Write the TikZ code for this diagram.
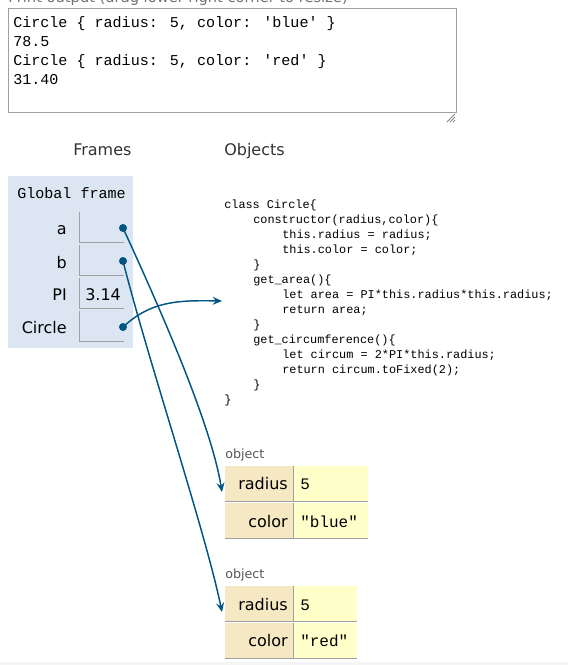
\documentclass[tikz,border=0pt]{standalone}
\usepackage{fontspec}
\setmainfont{DejaVu Sans}
\newfontfamily\monofont{Liberation Mono}
\usetikzlibrary{arrows.meta}
\definecolor{arrowblue}{HTML}{005583}
\definecolor{framebg}{HTML}{DCE6F2}
\definecolor{keybg}{HTML}{F7E8C4}
\definecolor{valbg}{HTML}{FFFFCA}
\definecolor{linegray}{HTML}{A0A0A0}
\definecolor{labelgray}{HTML}{555555}
\tikzset{
  outtext/.style={anchor=base west, inner sep=0pt, font=\monofont\fontsize{11.3pt}{13pt}\selectfont},
  codetext/.style={anchor=base west, inner sep=0pt, font=\monofont\fontsize{8.9pt}{11pt}\selectfont},
  headtext/.style={anchor=base west, inner sep=0pt, font=\fontsize{12pt}{14pt}\selectfont, text=black!80},
  varname/.style={anchor=base east, inner sep=0pt, font=\fontsize{12pt}{14pt}\selectfont},
  keytext/.style={anchor=base east, inner sep=0pt, font=\fontsize{12pt}{14pt}\selectfont},
  valtext/.style={anchor=base west, inner sep=0pt, font=\monofont\fontsize{12pt}{14pt}\selectfont},
  objlabel/.style={anchor=base west, inner sep=0pt, font=\fontsize{9.5pt}{11pt}\selectfont, text=labelgray},
  ptr/.style={draw=arrowblue, line width=1.1pt, -{Stealth[length=7pt, width=6pt, inset=2.5pt]}},
  dot/.style={circle, fill=arrowblue, inner sep=0pt, minimum size=6pt},
  cellline/.style={draw=linegray, line width=0.75pt},
}
\begin{document}
\begin{tikzpicture}[x=0.75pt, y=-0.75pt]
\useasboundingbox (0,0) rectangle (568,665);
\fill[white] (0,0) rectangle (568,665);
\fill[black!4] (0,662) rectangle (568,665);

% print output
\node[anchor=base west, inner sep=0pt, font=\fontsize{11pt}{13pt}\selectfont, text=black!55] (plabel) at (8,2) {Print output (drag lower right corner to resize)};
\draw[linegray, line width=0.75pt] (8,8) rectangle (456,112);
\node[outtext] (o1) at (13,27) {Circle \{ radius: 5, color: 'blue' \}};
\node[outtext] (o2) at (13,46) {78.5};
\node[outtext] (o3) at (13,65) {Circle \{ radius: 5, color: 'red' \}};
\node[outtext] (o4) at (13,84) {31.40};
\foreach \d in {0,3,6} \draw[black!45, line width=0.6pt] (447+\d,122) -- (455,114+\d);

% headings
\node[headtext] (frames) at (73,155) {Frames};
\node[headtext] (objects) at (224,155) {Objects};

% global frame
\fill[framebg] (8,176) rectangle (133,348);
\node[outtext] (gf) at (17,198) {Global frame};
\foreach \t/\b in {212/242, 245/275, 278/308, 311/341}
  \draw[cellline] (79,\t) -- (79,\b) -- (124,\b);
\node[varname] (va) at (67,234) {a};
\node[varname] (vb) at (67,268) {b};
\node[varname] (vpi) at (67,300) {PI};
\node[varname] (vc) at (67,333) {Circle};
\node[anchor=base west, inner sep=0pt, font=\fontsize{12pt}{14pt}\selectfont] (pival) at (85,300) {3.14};
\node[dot] (da) at (123,228) {};
\node[dot] (db) at (123,261) {};
\node[dot] (dc) at (123,327) {};

% class code
\node[codetext] (c1) at (224,208) {class Circle\{};
\node[codetext] (c2) at (253,223) {constructor(radius,color)\{};
\node[codetext] (c3) at (282,238) {this.radius = radius;};
\node[codetext] (c4) at (282,253) {this.color = color;};
\node[codetext] (c5) at (253,268) {\}};
\node[codetext] (c6) at (253,283) {get\_area()\{};
\node[codetext] (c7) at (282,298) {let area = PI*this.radius*this.radius;};
\node[codetext] (c8) at (282,313) {return area;};
\node[codetext] (c9) at (253,328) {\}};
\node[codetext] (c10) at (253,343) {get\_circumference()\{};
\node[codetext] (c11) at (282,358) {let circum = 2*PI*this.radius;};
\node[codetext] (c12) at (282,373) {return circum.toFixed(2);};
\node[codetext] (c13) at (253,388) {\}};
\node[codetext] (c14) at (224,403) {\}};
\coordinate (classin) at (222,301);

% object 1
\node[objlabel] (ol1) at (225,458) {object};
\fill[keybg] (225,466) rectangle (293,501);
\fill[valbg] (294,466) rectangle (368,501);
\fill[keybg] (225,503) rectangle (293,538);
\fill[valbg] (294,503) rectangle (368,538);
\draw[cellline] (225,501) -- (368,501);
\draw[cellline] (225,538) -- (368,538);
\draw[cellline] (293.5,466) -- (293.5,501);
\draw[cellline] (293.5,503) -- (293.5,538);
\node[keytext] (k11) at (288,489) {radius};
\node[valtext] (v11) at (300,489) {5};
\node[keytext] (k12) at (288,527) {color};
\node[valtext] (v12) at (300,527) {"blue"};
\coordinate (obj1in) at (222,492);

% object 2
\node[objlabel] (ol2) at (225,578) {object};
\fill[keybg] (225,586) rectangle (293,621);
\fill[valbg] (294,586) rectangle (357,621);
\fill[keybg] (225,623) rectangle (293,658);
\fill[valbg] (294,623) rectangle (357,658);
\draw[cellline] (225,621) -- (357,621);
\draw[cellline] (225,658) -- (357,658);
\draw[cellline] (293.5,586) -- (293.5,621);
\draw[cellline] (293.5,623) -- (293.5,658);
\node[keytext] (k21) at (288,610) {radius};
\node[valtext] (v21) at (300,610) {5};
\node[keytext] (k22) at (288,646) {color};
\node[valtext] (v22) at (300,646) {"red"};
\coordinate (obj2in) at (222,612);

% pointers
\draw[ptr] (da.center) .. controls (170,330) and (212,430) .. (obj1in);
\draw[ptr] (db.center) .. controls (148,360) and (205,530) .. (obj2in);
\draw[ptr] (dc.center) .. controls (150,302) and (175,300) .. (classin);
\end{tikzpicture}
\end{document}
